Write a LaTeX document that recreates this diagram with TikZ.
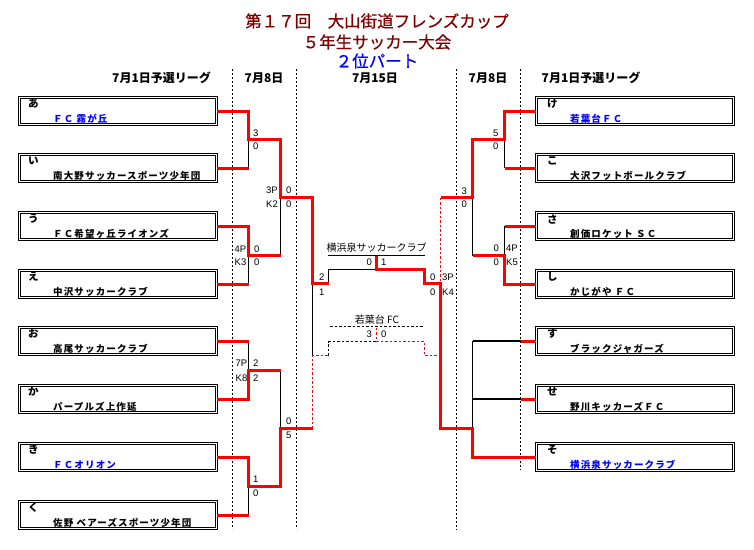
\documentclass[tikz,border=0pt]{standalone}
\usepackage{fontspec}
\newfontfamily\jp{Noto Sans CJK JP}
\newfontfamily\jpt{Noto Sans CJK JP}[FakeBold=0.6]
\newfontfamily\jpn{Noto Sans CJK JP}[LetterSpace=12]
\newfontfamily\num{Liberation Sans}
\definecolor{tred}{RGB}{128,0,0}
\definecolor{tblue}{RGB}{0,0,255}
\definecolor{wred}{RGB}{255,0,0}
\begin{document}
\begin{tikzpicture}[x=1pt,y=-1pt,
  wl/.style={draw=wred,line width=3pt},
  bl/.style={draw=black,line width=1.1pt},
  wd/.style={draw=wred,line width=1.1pt,dash pattern=on 2.5pt off 2pt},
  bd/.style={draw=black,line width=1.1pt,dash pattern=on 2.5pt off 2pt},
  sepline/.style={draw=black,line width=1.1pt,dash pattern=on 2pt off 2pt},
  teambox/.style={draw,double,double distance=1.1pt,line width=0.9pt,minimum width=197pt,minimum height=27pt,inner sep=0pt},
  kana/.style={anchor=west,inner sep=0pt,font=\jp\bfseries\fontsize{10.5}{11}\selectfont},
  tname/.style={anchor=west,inner sep=0pt,font=\jpn\bfseries\fontsize{9.5}{10}\selectfont},
  sc/.style={inner sep=0pt,font=\num\fontsize{9.5}{10}\selectfont},
  hdr/.style={inner sep=0pt,font=\jp\bfseries\fontsize{12}{12}\selectfont},
  ttl/.style={inner sep=0pt,font=\jpt\fontsize{16.5}{17}\selectfont},
  mlab/.style={inner sep=0pt,font=\jp\fontsize{10}{10}\selectfont}]
\useasboundingbox[fill=white] (0,0) rectangle (754,549);

% titles
\node[ttl,text=tred] (t1) at (377,21) {第１７回　大山街道フレンズカップ};
\node[ttl,text=tred] (t2) at (377,42) {５年生サッカー大会};
\node[ttl,text=tblue] (t3) at (377,61) {２位パート};

% headers
\node[hdr] (h1) at (161.5,78) {7月1日予選リーグ};
\node[hdr] (h2) at (264,78) {7月8日};
\node[hdr] (h3) at (375,78) {7月15日};
\node[hdr] (h4) at (488,78) {7月8日};
\node[hdr] (h5) at (591,78) {7月1日予選リーグ};

% separators
\draw[sepline] (232.5,69) -- (232.5,529);
\draw[sepline] (296.5,69) -- (296.5,529);
\draw[sepline] (456.5,69) -- (456.5,530);
\draw[sepline] (520.5,69) -- (520.5,470);

% boxes
\foreach \n/\y in {1/111,2/168,3/226,4/284,5/341,6/399,7/457,8/515}{
  \node[teambox] (L\n) at (118,\y) {};
}
\foreach \n/\y in {1/111,2/168,3/226,4/284,5/341,6/399,7/457}{
  \node[teambox] (R\n) at (635,\y) {};
}
% left texts
\node[kana] (kL1) at (28,104) {あ};
\node[tname,text=tblue] (nL1) at (53,119) {ＦＣ 霧が丘};
\node[kana] (kL2) at (28,161) {い};
\node[tname] (nL2) at (53,176) {南大野サッカースポーツ少年団};
\node[kana] (kL3) at (28,219) {う};
\node[tname] (nL3) at (53,234) {ＦＣ希望ヶ丘ライオンズ};
\node[kana] (kL4) at (28,277) {え};
\node[tname] (nL4) at (53,292) {中沢サッカークラブ};
\node[kana] (kL5) at (28,334) {お};
\node[tname] (nL5) at (53,349) {高尾サッカークラブ};
\node[kana] (kL6) at (28,392) {か};
\node[tname] (nL6) at (53,407) {パープルズ上作延};
\node[kana] (kL7) at (28,450) {き};
\node[tname,text=tblue] (nL7) at (53,465) {ＦＣオリオン};
\node[kana] (kL8) at (28,508) {く};
\node[tname] (nL8) at (53,523) {佐野 ベアーズスポーツ少年団};
% right texts
\node[kana] (kR1) at (547,104) {け};
\node[tname,text=tblue] (nR1) at (570,119) {若葉台ＦＣ};
\node[kana] (kR2) at (547,161) {こ};
\node[tname] (nR2) at (570,176) {大沢フットボールクラブ};
\node[kana] (kR3) at (547,219) {さ};
\node[tname] (nR3) at (570,234) {創価ロケット ＳＣ};
\node[kana] (kR4) at (547,277) {し};
\node[tname] (nR4) at (570,292) {かじがや ＦＣ};
\node[kana] (kR5) at (547,334) {す};
\node[tname] (nR5) at (570,349) {ブラックジャガーズ};
\node[kana] (kR6) at (547,392) {せ};
\node[tname] (nR6) at (570,407) {野川キッカーズＦＣ};
\node[kana] (kR7) at (547,450) {そ};
\node[tname,text=tblue] (nR7) at (570,465) {横浜泉サッカークラブ};

% junction coordinates
\coordinate (m1) at (248.5,139.5);
\coordinate (m2) at (248.5,255.5);
\coordinate (m3) at (248.5,370.5);
\coordinate (m4) at (248.5,486.5);
\coordinate (s1) at (280.5,197.5);
\coordinate (s2) at (280.5,428.5);
\coordinate (lf) at (312.5,283.5);
\coordinate (l3) at (312.5,355.5);
\coordinate (fl) at (328.5,283.5);
\coordinate (fjl) at (328.5,269.5);
\coordinate (fm) at (376.5,269.5);
\coordinate (fmu) at (376.5,255.5);
\coordinate (fjr) at (424.5,269.5);
\coordinate (fr) at (424.5,283.5);
\coordinate (rf) at (440.5,283.5);
\coordinate (gl) at (328.5,355.5);
\coordinate (gjl) at (328.5,341.5);
\coordinate (gm) at (376.5,341.5);
\coordinate (gmu) at (376.5,326.5);
\coordinate (gjr) at (424.5,341.5);
\coordinate (gr) at (424.5,355.5);
\coordinate (rg) at (440.5,355.5);
\coordinate (rm1) at (504.5,139.5);
\coordinate (rm2) at (504.5,255.5);
\coordinate (rs1) at (472.5,197.5);
\coordinate (rgrp) at (472.5,428.5);
\coordinate (e5) at (521,341);
\coordinate (e6) at (521,399);
\coordinate (ful) at (328,255.5);
\coordinate (fur) at (425,255.5);
\coordinate (gul) at (330,326.5);
\coordinate (gur) at (424,326.5);

% black (losing) lines
\draw[bl] (m1) -- (m1 |- L2.east);
\draw[bl] (m2) -- (m2 |- L4.east);
\draw[bl] (m3) -- (m3 |- L5.east);
\draw[bl] (m4) -- (m4 |- L8.east);
\draw[bl] (s1) -- (s1 |- m2);
\draw[bl] (s2 |- m3) -- (s2);
\draw[bl] (lf) -- (l3);
\draw[bl] (fl) -- (fjl) -- (fm);
\draw[bl] (ful) -- (fur);
\draw[bl] (rm1) -- (rm1 |- R2.west);
\draw[bl] (rm2) -- (rm2 |- R3.west);
\draw[bl] (rs1) -- (rs1 |- rm2);
\draw[bl] (rgrp |- R5.west) -- (rgrp);
\draw[bl] (rgrp |- R5.west) -- (e5);
\draw[bl] (rgrp |- R6.west) -- (e6);
\draw[bd] (gl) -- (gjl) -- (gm);
\draw[bd] (gul) -- (gur);

% red (winning) lines, left
\draw[wl] (L2.east) -- (m1 |- L2.east);
\draw[wl] (L4.east) -- (m2 |- L4.east);
\draw[wl] (L5.east) -- (m3 |- L5.east);
\draw[wl] (L8.east) -- (m4 |- L8.east);
\draw[wl] (L3.east) -| (m2) -- (s1 |- m2);
\draw[wl] (L6.east) -| (m3) -- (s2 |- m3);
\draw[wl] (L1.east) -| (m1) -- (s1 |- m1) -- (s1) -- (lf |- s1) -- (lf) -- (fl);
\draw[wl] (L7.east) -| (m4) -- (s2 |- m4) -- (s2) -- (l3 |- s2);
\draw[wd] (l3 |- s2) -- (l3) -- (gl);

% red lines, right
\draw[wl] (R2.west) -- (rm1 |- R2.west);
\draw[wl] (R3.west) -- (rm2 |- R3.west);
\draw[wl] (R4.west) -| (rm2) -- (rs1 |- rm2);
\draw[wl] (e5) -- (R5.west);
\draw[wl] (e6) -- (R6.west);
\draw[wd] (rf |- rs1) -- (rg) -- (gr) -- (gjr) -- (gm) -- (gmu);
\draw[wl] (R1.west) -| (rm1) -- (rs1 |- rm1) -- (rs1) -- (rf |- rs1);
\draw[wl] (R7.west) -| (rgrp) -- (rf |- rgrp) -- (rf) -- (fr) -- (fjr) -- (fm) -- (fmu);

% centre labels
\node[mlab] (fname) at (376.5,248) {横浜泉サッカークラブ};
\node[mlab] (gname) at (377,319.5) {若葉台 FC};

% scores left
\node[sc,anchor=west] (c1) at (253,133) {3};
\node[sc,anchor=west] (c2) at (253,146.5) {0};
\node[sc,anchor=east] (c3) at (246.5,249) {4P};
\node[sc,anchor=west] (c4) at (254,249) {0};
\node[sc,anchor=east] (c5) at (246.5,262.5) {K3};
\node[sc,anchor=west] (c6) at (254,262.5) {0};
\node[sc,anchor=east] (c7) at (247.5,363.5) {7P};
\node[sc,anchor=west] (c8) at (253,363.5) {2};
\node[sc,anchor=east] (c9) at (247.5,378) {K8};
\node[sc,anchor=west] (c10) at (253,378) {2};
\node[sc,anchor=west] (c11) at (253,479.5) {1};
\node[sc,anchor=west] (c12) at (253,493.5) {0};
\node[sc,anchor=east] (c13) at (278,190) {3P};
\node[sc,anchor=west] (c14) at (286,190) {0};
\node[sc,anchor=east] (c15) at (278,204) {K2};
\node[sc,anchor=west] (c16) at (286,204) {0};
\node[sc,anchor=west] (c17) at (286,421) {0};
\node[sc,anchor=west] (c18) at (286,435.5) {5};
% centre scores
\node[sc,anchor=west] (c19) at (319,277) {2};
\node[sc,anchor=west] (c20) at (319,292) {1};
\node[sc,anchor=east] (c21) at (372,262) {0};
\node[sc,anchor=west] (c22) at (381,262) {1};
\node[sc,anchor=east] (c23) at (435.5,277) {0};
\node[sc,anchor=east] (c24) at (435.5,292) {0};
\node[sc,anchor=west] (c25) at (442,277) {3P};
\node[sc,anchor=west] (c26) at (442,292) {K4};
\node[sc,anchor=east] (c27) at (372,334) {3};
\node[sc,anchor=west] (c28) at (381,334) {0};
% scores right
\node[sc,anchor=east] (c29) at (467,191) {3};
\node[sc,anchor=east] (c30) at (467,204.5) {0};
\node[sc,anchor=east] (c31) at (498.5,133) {5};
\node[sc,anchor=east] (c32) at (498.5,146.5) {0};
\node[sc,anchor=east] (c33) at (499,248) {0};
\node[sc,anchor=east] (c34) at (499,262) {0};
\node[sc,anchor=west] (c35) at (506,248) {4P};
\node[sc,anchor=west] (c36) at (506,262) {K5};
\end{tikzpicture}
\end{document}
